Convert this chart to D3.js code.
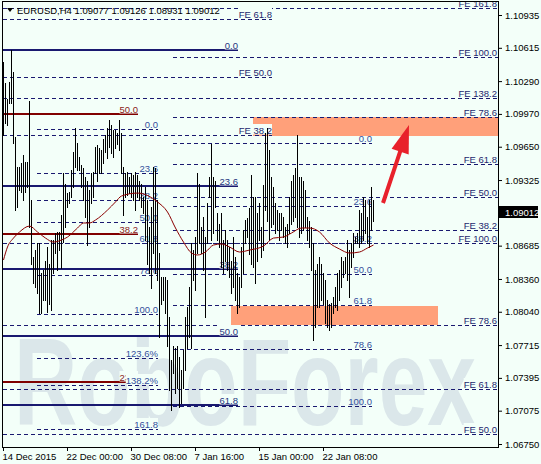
<!DOCTYPE html>
<html>
  <head>
    <meta charset="utf-8">
    <title>EURUSD H4</title>
    <script src="https://d3js.org/d3.v7.min.js"></script>
    <style>
      body { margin: 0; background: #f3fff9; }
      svg { display: block; }
      text { font-family: "Liberation Sans", Arial, sans-serif; font-size: 9.5px; }
    </style>
  </head>
  <body>
    <svg id="chart" width="541" height="464"></svg>
    <script>
      // H4 bars, 14 Dec 2015 - 22 Jan 2016 (high / low)
      const highs = [
        1.1048, 1.1027, 1.1012, 1.1028, 1.1059, 1.1038, 1.0974, 1.0945, 1.0945, 1.0949,
        1.0957, 1.0950, 1.0950, 1.1010, 1.0913, 1.0857, 1.0864, 1.0871, 1.0871, 1.0842,
        1.0845, 1.0854, 1.0867, 1.0851, 1.0874, 1.0874, 1.0881, 1.0882, 1.0882, 1.0898,
        1.0939, 1.0929, 1.0920, 1.0921, 1.0942, 1.0960, 1.0983, 1.0969, 1.0955, 1.0947,
        1.0944, 1.0935, 1.0932, 1.0923, 1.0939, 1.0940, 1.0965, 1.0967, 1.0964, 1.0962,
        1.0973, 1.0976, 1.0983, 1.0991, 1.0986, 1.0981, 1.0981, 1.0978, 1.0991, 1.0978, 1.0945,
        1.0939, 1.0940, 1.0935, 1.0939, 1.0937, 1.0940, 1.0937, 1.0932, 1.0929, 1.0916,
        1.0926, 1.0913, 1.0887, 1.0906, 1.0945, 1.0944, 1.0913, 1.0861, 1.0838, 1.0838,
        1.0838, 1.0835, 1.0799, 1.0757, 1.0771, 1.0769, 1.0771, 1.0760, 1.0747, 1.0767,
        1.0799, 1.0809, 1.0828, 1.0871, 1.0864, 1.0877, 1.0939, 1.0929, 1.0887, 1.0896,
        1.0877, 1.0910, 1.0935, 1.0968, 1.0935, 1.0932, 1.0900, 1.0890, 1.0900, 1.0874,
        1.0884, 1.0874, 1.0867, 1.0854, 1.0877, 1.0857, 1.0842, 1.0838, 1.0867, 1.0884, 1.0894, 1.0895, 1.0905,
        1.0937, 1.0916, 1.0916, 1.0900, 1.0910, 1.0887, 1.0928, 1.0978, 1.0983, 1.0962,
        1.0935, 1.0926, 1.0910, 1.0903, 1.0900, 1.0900, 1.0896, 1.0887, 1.0890, 1.0916,
        1.0932, 1.0937, 1.0944, 1.0976, 1.0935, 1.0935, 1.0932, 1.0923, 1.0896, 1.0893,
        1.0887, 1.0871, 1.0845, 1.0851, 1.0857, 1.0851, 1.0842, 1.0835, 1.0815, 1.0812,
        1.0813, 1.0818, 1.0828, 1.0842, 1.0845, 1.0857, 1.0854, 1.0857, 1.0874, 1.0864,
        1.0871, 1.0881, 1.0877, 1.0881, 1.0903, 1.0900, 1.0916, 1.0913, 1.0896, 1.0913,
        1.0926, 1.0913
      ];
      const lows = [
        1.0976, 1.0988, 1.0986, 1.1008, 1.1008, 1.0969, 1.0903, 1.0906, 1.0923, 1.0921,
        1.0913, 1.0921, 1.0926, 1.0887, 1.0851, 1.0832, 1.0828, 1.0822, 1.0803, 1.0803,
        1.0815, 1.0815, 1.0804, 1.0812, 1.0806, 1.0842, 1.0861, 1.0845, 1.0864, 1.0847,
        1.0872, 1.0887, 1.0906, 1.0910, 1.0916, 1.0926, 1.0945, 1.0942, 1.0942, 1.0926,
        1.0913, 1.0896, 1.0869, 1.0887, 1.0910, 1.0916, 1.0939, 1.0932, 1.0939, 1.0939,
        1.0949, 1.0960, 1.0954, 1.0965, 1.0959, 1.0955, 1.0964, 1.0968, 1.0962, 1.0939, 1.0898,
        1.0916, 1.0918, 1.0920, 1.0916, 1.0913, 1.0903, 1.0916, 1.0913, 1.0906, 1.0900,
        1.0874, 1.0851, 1.0842, 1.0827, 1.0861, 1.0842, 1.0835, 1.0779, 1.0812, 1.0815,
        1.0803, 1.0771, 1.0728, 1.0708, 1.0744, 1.0725, 1.0730, 1.0711, 1.0715, 1.0730,
        1.0747, 1.0769, 1.0779, 1.0769, 1.0835, 1.0825, 1.0861, 1.0871, 1.0861, 1.0845,
        1.0799, 1.0871, 1.0916, 1.0874, 1.0881, 1.0906, 1.0874, 1.0867, 1.0848, 1.0842,
        1.0854, 1.0845, 1.0838, 1.0822, 1.0828, 1.0815, 1.0803, 1.0809, 1.0828, 1.0842, 1.0871, 1.0877, 1.0860,
        1.0851, 1.0848, 1.0832, 1.0854, 1.0874, 1.0857, 1.0864, 1.0903, 1.0893, 1.0874,
        1.0887, 1.0890, 1.0881, 1.0884, 1.0874, 1.0884, 1.0877, 1.0871, 1.0867, 1.0881,
        1.0890, 1.0893, 1.0896, 1.0887, 1.0877, 1.0881, 1.0884, 1.0887, 1.0874, 1.0867,
        1.0845, 1.0776, 1.0789, 1.0809, 1.0809, 1.0815, 1.0812, 1.0793, 1.0789, 1.0786,
        1.0789, 1.0803, 1.0809, 1.0806, 1.0815, 1.0828, 1.0838, 1.0842, 1.0835, 1.0818,
        1.0848, 1.0857, 1.0871, 1.0871, 1.0867, 1.0871, 1.0874, 1.0881, 1.0871, 1.0867,
        1.0884, 1.0893
      ];

      // moving average, read at sample bars
      const maIdx = [0, 2, 5, 8, 13, 17, 21, 25, 29, 32, 37, 40, 43, 46, 52, 56, 59, 67, 77, 82,
        86, 90, 94, 97, 101, 105, 109, 113, 118, 123, 130, 135, 140, 144, 149, 153, 158, 163, 168, 173,
        178, 182, 185];
      const maVal = [1.08545, 1.08672, 1.08759, 1.08818, 1.08876, 1.08818, 1.08759, 1.08720, 1.08740, 1.08769,
        1.08857, 1.08906, 1.08906, 1.08935, 1.09032, 1.09111, 1.09169, 1.09198, 1.09111, 1.09013,
        1.08857, 1.08720, 1.08613, 1.08594, 1.08623, 1.08691, 1.08701, 1.08672, 1.08623, 1.08642,
        1.08681, 1.08759, 1.08769, 1.08808, 1.08857, 1.08857, 1.08818, 1.08711, 1.08652, 1.08613,
        1.08623, 1.08662, 1.08691];

      // axes
      const yTicks = [1.10935, 1.10615, 1.10290, 1.09970, 1.09650, 1.09325, 1.08685, 1.08360,
        1.08040, 1.07715, 1.07395, 1.07075, 1.06750];
      const lastPrice = 1.09012;
      const xTickIdx = [0, 32, 64, 96, 128, 160];
      const xTickLabels = ["14 Dec 2015", "22 Dec 00:00", "30 Dec 08:00", "7 Jan 16:00", "15 Jan 00:00", "22 Jan 08:00"];
      const title = "EURUSD,H4  1.09077 1.09126 1.08931 1.09012";

      // fibo expansions running to the right edge: [label, price, first bar] (null = left edge)
      const feRight = [
        ["FE 161.8", 1.11003, null],
        ["FE 100.0", 1.10525, 85],
        ["FE 138.2", 1.10125, null],
        ["FE 78.6", 1.09940, 85],
        ["FE 61.8", 1.09481, 85],
        ["FE 50.0", 1.09159, 85],
        ["FE 38.2", 1.08837, 85],
        ["FE 100.0", 1.08711, null],
        ["FE 78.6", 1.07911, null],
        ["FE 61.8", 1.07286, null],
        ["FE 50.0", 1.06847, null]
      ];
      // short expansion (left edge to bar 134)
      const feShort = [["FE 61.8", 1.10896], ["FE 50.0", 1.10330], ["FE 38.2", 1.09764]];
      // retracements
      const fibLeft = [["0.0", 1.09823], ["23.6", 1.09393], ["38.2", 1.09130], ["50.0", 1.08915],
        ["61.8", 1.08711], ["78.6", 1.08398], ["100.0", 1.08018], ["123.6%", 1.07589],
        ["138.2%", 1.07325], ["161.8", 1.06896]];
      const fibRight = [["0.0", 1.09686], ["23.6", 1.09072], ["38.2", 1.08711], ["50.0", 1.08408],
        ["61.8", 1.08106], ["78.6", 1.07677], ["100.0", 1.07121]];
      const fibNavy = [["0.0", 1.10593], ["23.6", 1.09267], ["38.2", 1.08457], ["50.0", 1.07803], ["61.8", 1.07130]];
      const fibRed = [["50.0", 1.09969], ["38.2", 1.08798], ["23.6", 1.07355]];

      // target zones: [top, bottom, first bar, last bar]
      const zones = [[1.09940, 1.09754, 125, null], [1.08096, 1.07911, 114, 217]];
      // arrow [bar, price]
      const arrowTail = [189.75, 1.09101];
      const arrowHead = [202.75, 1.09862];

      const bg = "#f3fff9";
      const svg = d3.select("#chart");
      svg.append("rect").attr("width", 541).attr("height", 464).attr("fill", bg);

      const x = d3.scaleLinear().domain([0, highs.length - 1]).range([3, 373]);
      const y = d3.scaleLinear().domain([1.06750, 1.10935]).range([444, 15]);

      svg.append("clipPath").attr("id", "plotClip")
        .append("rect").attr("x", 3).attr("y", 2).attr("width", 495).attr("height", 445);
      const plotG = svg.append("g").attr("clip-path", "url(#plotClip)");

      // watermark
      plotG.append("text")
        .attr("x", 14).attr("y", 425)
        .attr("textLength", 462).attr("lengthAdjust", "spacingAndGlyphs")
        .style("font-size", "124px").style("font-weight", "bold")
        .attr("fill", "#dbe7ea")
        .text("RoboForex");

      // zones
      plotG.selectAll(".zone")
        .data(zones)
        .enter().append("rect")
          .attr("class", "zone")
          .attr("x", function(d) { return x(d[2]); })
          .attr("y", function(d) { return Math.round(y(d[0])); })
          .attr("width", function(d) { return (d[3] === null ? 498 : x(d[3]) + 1) - x(d[2]); })
          .attr("height", function(d) { return Math.round(y(d[1])) - Math.round(y(d[0])); })
          .attr("fill", "#ffa07a");

      // draws one fibo object: lines, then labels (optionally on a background box)
      function drawLevels(levels, opt) {
        const g = plotG.append("g");
        const rows = levels.map(function(d) {
          const from = d.length > 2 ? d[2] : opt.from;
          const to = opt.to;
          return {
            label: d[0],
            r: Math.round(y(d[1])),
            x0: from === null ? 3 : x(from),
            x1: to === null ? 498 : x(to) + 1,
            lx: to === null ? 497 : x(to) + 1
          };
        });
        rows.forEach(function(d) {
          g.append("line")
            .attr("x1", d.x0).attr("x2", d.x1)
            .attr("y1", opt.width === 2 ? d.r : d.r + 0.5)
            .attr("y2", opt.width === 2 ? d.r : d.r + 0.5)
            .attr("stroke", opt.stroke)
            .attr("stroke-width", opt.width)
            .attr("stroke-dasharray", opt.dash || null);
        });
        rows.forEach(function(d) {
          const t = g.append("text")
            .attr("x", d.lx).attr("y", d.r - 1.5)
            .attr("text-anchor", "end")
            .attr("fill", opt.color)
            .text(d.label);
          if (!opt.box) return;
          const w = t.node().getComputedTextLength();
          g.insert("rect", function() { return t.node(); })
            .attr("x", d.lx - w).attr("y", d.r - 11)
            .attr("width", w).attr("height", 10.5)
            .attr("fill", bg);
        });
      }

      const navy = "#191970";
      drawLevels(fibRed, { from: null, to: 67, stroke: "#800000", width: 2, color: "#8b1a1a", box: true });
      drawLevels(feRight, { from: null, to: null, stroke: navy, width: 1, dash: "4,3", color: "#231f6e", box: true });
      drawLevels(fibRight, { from: 85, to: 184, stroke: navy, width: 1, dash: "4,3", color: "#34509c", box: false });
      drawLevels(feShort, { from: null, to: 134, stroke: navy, width: 1, dash: "4,3", color: "#231f6e", box: true });
      drawLevels(fibLeft, { from: 17, to: 77, stroke: navy, width: 1, dash: "4,3", color: "#34509c", box: true });
      drawLevels(fibNavy, { from: null, to: 117, stroke: navy, width: 2, color: "#25357f", box: true });

      // bars
      plotG.selectAll(".bar")
        .data(highs)
        .enter().append("rect")
          .attr("class", "bar")
          .attr("x", function(d, i) { return x(i); })
          .attr("y", function(d) { return Math.round(y(d)); })
          .attr("width", 1)
          .attr("height", function(d, i) { return Math.round(y(lows[i])) - Math.round(y(d)) + 1; })
          .attr("fill", "#000");

      // moving average
      plotG.append("path")
        .datum(maIdx.map(function(d, i) { return [d, maVal[i]]; }))
        .attr("fill", "none")
        .attr("stroke", "#8b0000")
        .attr("stroke-width", 1)
        .attr("d", d3.line()
          .x(function(d) { return x(d[0]) + 0.5; })
          .y(function(d) { return y(d[1]); })
          .curve(d3.curveMonotoneX));

      // arrow
      const ax0 = x(arrowTail[0]) + 0.5, ay0 = y(arrowTail[1]);
      const ax1 = x(arrowHead[0]) + 0.5, ay1 = y(arrowHead[1]);
      const len = Math.hypot(ax1 - ax0, ay1 - ay0);
      const ux = (ax1 - ax0) / len, uy = (ay1 - ay0) / len;
      const bx = ax1 - ux * 28, by = ay1 - uy * 28;
      plotG.append("line")
        .attr("x1", ax0).attr("y1", ay0)
        .attr("x2", bx + ux * 2).attr("y2", by + uy * 2)
        .attr("stroke", "#e8212b").attr("stroke-width", 4);
      plotG.append("path")
        .attr("d", "M" + ax1 + "," + ay1 +
          "L" + (bx - uy * 9) + "," + (by + ux * 9) +
          "L" + (bx + uy * 9) + "," + (by - ux * 9) + "Z")
        .attr("fill", "#e8212b");

      // frame
      svg.append("rect")
        .attr("x", 2.5).attr("y", 1.5).attr("width", 496).attr("height", 446)
        .attr("fill", "none").attr("stroke", "#000");

      // price axis
      const yAxis = svg.append("g")
        .attr("transform", "translate(498,0)")
        .call(d3.axisRight(y).tickValues(yTicks).tickSize(4).tickPadding(3).tickFormat(d3.format(".5f")));
      yAxis.select(".domain").remove();
      yAxis.selectAll("text").attr("fill", "#000");

      // current price
      const lp = Math.round(y(lastPrice));
      svg.append("rect")
        .attr("x", 499).attr("y", lp - 6).attr("width", 39).attr("height", 12)
        .attr("fill", "#000");
      svg.append("text")
        .attr("x", 505).attr("y", lp + 0.5).attr("dy", "0.35em")
        .attr("fill", "#fff")
        .text(d3.format(".5f")(lastPrice));

      // time axis
      const xAxis = svg.append("g")
        .attr("transform", "translate(0,447)")
        .call(d3.axisBottom(x).tickValues(xTickIdx).tickSize(4).tickPadding(2)
          .tickFormat(function(d, i) { return xTickLabels[i]; }));
      xAxis.select(".domain").remove();
      xAxis.selectAll("text").attr("text-anchor", "start").attr("x", -1).attr("fill", "#000");

      // title
      svg.append("path").attr("d", "M7,8L13,8L10,12Z").attr("fill", "#000");
      svg.append("text").attr("x", 17).attr("y", 13.5).attr("fill", "#000").text(title);
    </script>
  </body>
</html>
